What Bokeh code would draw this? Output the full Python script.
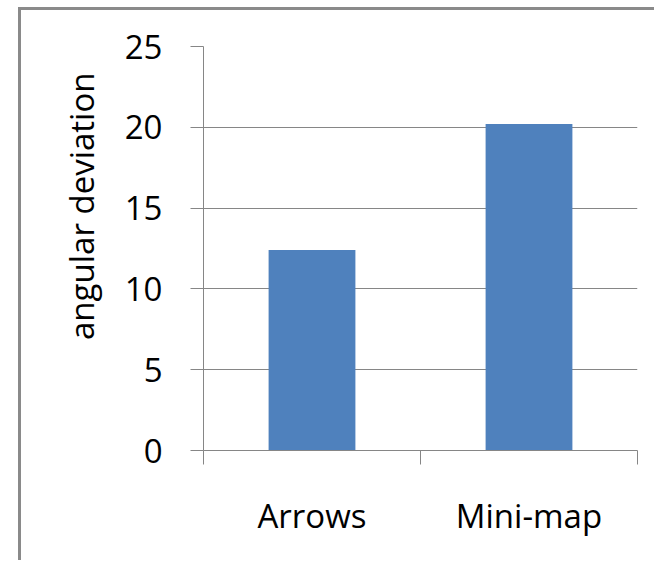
from bokeh.plotting import figure
from bokeh.models import FixedTicker, Range1d, Title, ColumnDataSource
from bokeh.embed import file_html
from bokeh.resources import INLINE

categories = ["Arrows", "Mini-map"]
values = [12.4, 20.2]
y_ticks = [0, 5, 10, 15, 20, 25]
y_label = "angular deviation"

FONT = "Open Sans"
GRAY = "#868686"
FRAME_GRAY = "#8a8a8a"

centers = [i + 0.5 for i in range(len(categories))]
bounds = [float(i) for i in range(len(categories) + 1)]
src = ColumnDataSource(dict(x=centers, top=values, cat=categories))

p = figure(width=633, height=550, output_backend="svg", toolbar_location=None,
           x_range=Range1d(0, len(categories)), y_range=Range1d(0, 25))
p.min_border_left = 182
p.min_border_right = 17
p.min_border_top = 36
p.min_border_bottom = 110
p.margin = (10, 0, 0, 21)
p.styles = {"box-shadow": f"0 -3px 0 0 {FRAME_GRAY}, -3px 0 0 0 {FRAME_GRAY}, -3px -3px 0 0 {FRAME_GRAY}",
            "vertical-align": "top"}
p.outline_line_color = None
p.background_fill_color = "white"
p.border_fill_color = "white"

p.vbar(x="x", top="top", width=0.4, bottom=0, source=src,
       fill_color="#4F81BD", line_color=None)

xa = p.xaxis[0]
xa.ticker = FixedTicker(ticks=centers, minor_ticks=bounds)
xa.major_label_overrides = {c: n for c, n in zip(centers, categories)}
xa.major_tick_out = 0
xa.major_tick_in = 0
xa.minor_tick_out = 14
xa.minor_tick_in = 0
xa.minor_tick_line_color = GRAY
xa.axis_line_color = GRAY
xa.major_label_text_font = FONT
xa.major_label_text_font_size = "33px"
xa.major_label_text_color = "black"
xa.major_label_standoff = 28

ya = p.yaxis[0]
ya.ticker = FixedTicker(ticks=y_ticks)
ya.major_tick_out = 13
ya.major_tick_in = 0
ya.minor_tick_line_color = None
ya.major_tick_line_color = GRAY
ya.axis_line_color = GRAY
ya.major_label_text_font = FONT
ya.major_label_text_font_size = "33px"
ya.major_label_text_color = "black"
ya.major_label_standoff = 28

p.xgrid.grid_line_color = None
p.ygrid.ticker = FixedTicker(ticks=y_ticks)
p.ygrid.grid_line_color = GRAY
p.ygrid.grid_line_width = 1

t = Title(text=y_label, align="right", offset=26, standoff=36,
          text_font=FONT, text_font_size="33px", text_font_style="normal",
          text_color="black")
p.add_layout(t, "left")

open("out.html", "w").write(file_html(p, INLINE))
